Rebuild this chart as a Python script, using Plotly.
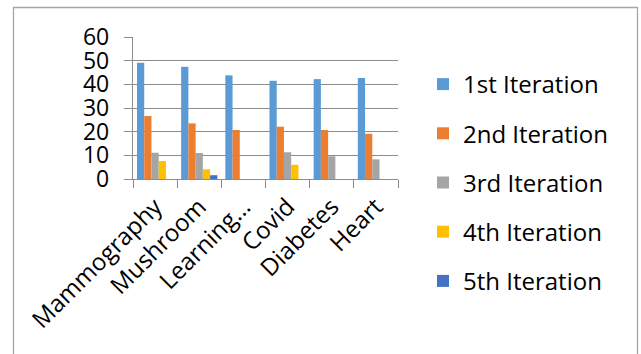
import plotly.graph_objects as go

categories = ["Mammography", "Mushroom", "Learning…", "Covid", "Diabetes", "Heart"]
series_names = ["1st Iteration", "2nd Iteration", "3rd Iteration", "4th Iteration", "5th Iteration"]
iter1 = [49.1, 47.4, 43.8, 41.5, 42.2, 42.7]
iter2 = [26.6, 23.5, 20.7, 22.1, 20.7, 19.1]
iter3 = [11.1, 11.0, None, 11.3, 9.6, 8.3]
iter4 = [7.6, 4.1, None, 6.0, None, None]
iter5 = [None, 1.6, None, None, None, None]
colors = ["#5B9BD5", "#ED7D31", "#A5A5A5", "#FFC000", "#4472C4"]
y_ticks = [0, 10, 20, 30, 40, 50, 60]

W, H = 641, 354
L, R, T, B = 133, 398, 37, 179

fig = go.Figure()
for name, vals, col in zip(series_names, [iter1, iter2, iter3, iter4, iter5], colors):
    fig.add_trace(go.Bar(x=categories, y=vals, name=name, marker_color=col,
                         marker_line_width=0, legendgroup=name))

def px_x(p):
    return (p - L) / (R - L)

def px_y(p):
    return (B - p) / (B - T)

fig.add_shape(type="rect", xref="paper", yref="paper",
              x0=px_x(13.5), x1=px_x(637.5), y0=px_y(370), y1=px_y(7.5),
              line=dict(color="#A6A6A6", width=1.3), fillcolor="rgba(0,0,0,0)", layer="below")

FONT = "Open Sans, Noto Sans, sans-serif"
fig.update_layout(
    width=W, height=H,
    margin=dict(l=L, r=W - R, t=T, b=H - B, pad=0),
    paper_bgcolor="white", plot_bgcolor="white",
    barmode="group", bargap=0.18, bargroupgap=0,
    font=dict(family=FONT, size=24, color="#000000"),
    showlegend=True,
    legend=dict(x=px_x(423), y=px_y(62), xanchor="left", yanchor="top",
                font=dict(size=24, color="#000000"), traceorder="grouped",
                tracegroupgap=15, bgcolor="rgba(0,0,0,0)", itemwidth=30,
                maxheight=340),
    xaxis=dict(showgrid=False, showline=True, linecolor="#8C8C8C", linewidth=1.3,
               ticks="outside", ticklen=8, tickcolor="#8C8C8C", tickwidth=1.3,
               tickson="boundaries", tickangle=-45, tickfont=dict(size=24),
               ticklabelstandoff=3, fixedrange=True),
    yaxis=dict(range=[0, 60], tickvals=y_ticks, showgrid=True, gridcolor="#8C8C8C",
               gridwidth=1.3, showline=True, linecolor="#8C8C8C", linewidth=1.3,
               ticks="outside", ticklen=8, tickcolor="#8C8C8C", tickwidth=1.3,
               tickfont=dict(size=23), zeroline=False, ticklabelstandoff=10),
)

fig.write_html("out.html")
